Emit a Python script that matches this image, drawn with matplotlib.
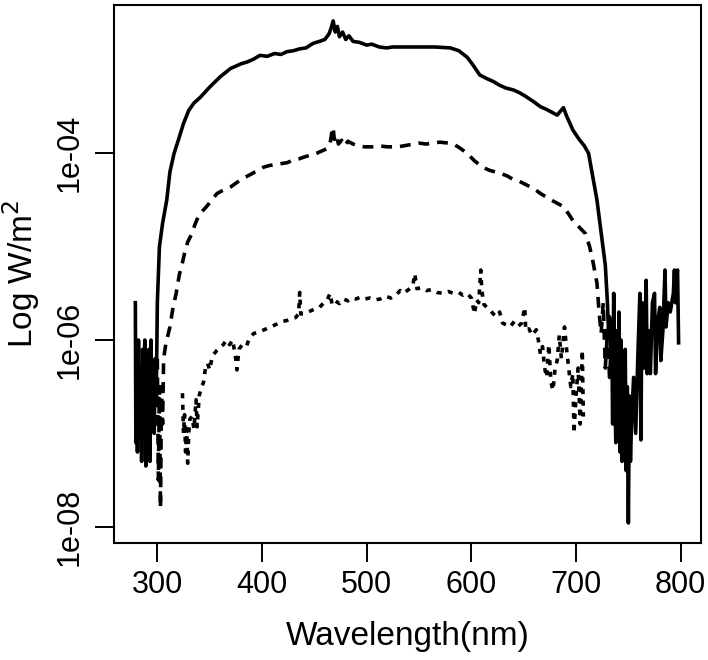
import matplotlib
matplotlib.use('Agg')
import matplotlib.pyplot as plt
import numpy as np

# wavelength (nm) and log10 irradiance
solid_nm = [279, 279.5, 280, 281, 282, 283, 284, 285, 286, 287, 288, 289, 290, 291, 292, 293,
            294, 295, 296, 297, 298, 299, 300, 302, 305, 309, 312, 316, 320, 325, 330, 335,
            341, 350, 360, 370, 380, 386, 392, 398, 405, 412, 418, 424, 430, 436, 442, 449,
            455, 460, 464, 466, 468, 470, 472, 474, 477, 480, 483, 487, 493, 500, 505, 512,
            519, 525, 535, 550, 565, 580, 588, 596, 602, 608, 615, 621, 627, 633, 640, 646,
            652, 656, 660, 666, 672, 677, 682, 685, 688, 691, 697, 703, 708, 712, 716, 720,
            724, 728, 730, 731, 732, 733, 734, 735, 736, 737, 738, 739, 740, 741, 742, 743,
            744, 745, 746, 747, 748, 749, 750, 751, 752, 753, 755, 757, 759, 761, 762, 763,
            765, 767, 768, 770, 771, 773, 775, 776, 778, 780, 781, 783, 785, 786, 788, 790,
            793, 794, 795, 796, 797, 798]
solid_log = [-5.6, -7.1, -6.3, -7.2, -6.0, -6.9, -6.5, -7.3, -6.1, -7.0, -6.0, -7.35, -6.4, -7.2, -6.1, -7.3,
             -6.0, -6.9, -6.3, -7.0, -6.2, -6.6, -5.6, -5.0, -4.75, -4.5, -4.2, -4.0, -3.86, -3.68, -3.54, -3.46,
             -3.4, -3.29, -3.18, -3.09, -3.04, -3.02, -2.99, -2.95, -2.96, -2.93, -2.94, -2.91, -2.9, -2.88, -2.87, -2.82,
             -2.8, -2.78, -2.72, -2.66, -2.58, -2.7, -2.64, -2.75, -2.7, -2.78, -2.74, -2.8, -2.81, -2.84, -2.83, -2.86,
             -2.87, -2.86, -2.86, -2.86, -2.86, -2.87, -2.9, -2.97, -3.06, -3.16, -3.2, -3.23, -3.27, -3.3, -3.32, -3.35,
             -3.39, -3.42, -3.45, -3.5, -3.53, -3.56, -3.59, -3.55, -3.51, -3.6, -3.75, -3.85, -3.92, -4.0, -4.25, -4.5,
             -4.85, -5.2, -5.6, -5.9, -5.75, -6.2, -5.8, -6.9, -5.5, -6.5, -7.1, -5.9, -7.0, -5.7, -7.2, -6.0,
             -7.3, -6.3, -7.25, -6.1, -7.4, -6.5, -7.96, -6.6, -7.3, -6.9, -6.4, -7.0, -6.2, -5.5, -7.07, -5.6,
             -6.3, -5.36, -6.36, -5.9, -6.36, -5.6, -5.5, -6.36, -5.8, -5.65, -6.22, -5.9, -5.25, -5.86, -5.6, -5.7,
             -5.5, -5.25, -5.6, -5.3, -5.25, -6.03]

dashed_nm = [300, 301, 302, 303, 304, 305, 306, 308, 312, 315, 318, 321, 323, 326, 329, 333,
             336, 339, 343, 347, 352, 357, 362, 366, 370, 375, 380, 385, 390, 396, 401, 407,
             413, 418, 424, 430, 435, 440, 446, 452, 458, 462, 465, 467, 468, 469, 471, 473,
             476, 479, 482, 487, 492, 498, 505, 512, 520, 530, 540, 550, 557, 563, 570, 578,
             583, 590, 596, 603, 611, 617, 623, 629, 634, 640, 646, 653, 660, 666, 672, 678,
             683, 688, 693, 697, 703, 709, 713, 716, 720, 722, 724, 726, 728, 730, 732, 734, 736]
dashed_log = [-6.2, -7.5, -6.5, -7.8, -6.5, -6.9, -6.2, -6.05, -5.86, -5.65, -5.5, -5.3, -5.22, -5.07, -4.95, -4.86,
              -4.76, -4.68, -4.62, -4.57, -4.5, -4.43, -4.4, -4.38, -4.36, -4.32, -4.28, -4.25, -4.22, -4.18, -4.15, -4.13,
              -4.12, -4.11, -4.1, -4.07, -4.06, -4.04, -4.02, -4.0, -3.97, -3.95, -3.9, -3.75, -3.72, -3.85, -3.8, -3.9,
              -3.86, -3.92, -3.87, -3.9, -3.92, -3.93, -3.93, -3.92, -3.93, -3.93, -3.91, -3.89, -3.9, -3.89, -3.88, -3.89,
              -3.9, -3.95, -4.0, -4.08, -4.15, -4.18, -4.2, -4.22, -4.24, -4.28, -4.3, -4.34, -4.38, -4.43, -4.47, -4.51,
              -4.54, -4.57, -4.65, -4.72, -4.79, -4.86, -5.0, -5.15, -5.39, -5.7, -5.93, -5.6, -6.3, -5.9, -6.4, -6.0, -6.7]

dotted_nm = [324, 325, 326, 327, 328, 329, 330, 331, 333, 335, 337, 338, 340, 342, 344, 346,
             348, 350, 352, 354, 357, 360, 363, 366, 369, 372, 375, 376, 378, 381, 385, 388,
             392, 396, 400, 404, 408, 412, 416, 420, 424, 428, 432, 435, 436, 437, 440, 444,
             448, 452, 455, 459, 462, 465, 467, 470, 474, 478, 482, 486, 490, 494, 498, 503,
             508, 513, 518, 523, 528, 532, 535, 540, 544, 546, 548, 552, 557, 562, 567, 573,
             578, 583, 588, 592, 596, 600, 603, 605, 607, 609, 610, 612, 615, 618, 621, 624,
             627, 630, 634, 637, 641, 645, 648, 651, 652, 655, 658, 662, 664, 666, 668, 670,
             672, 674, 676, 678, 680, 682, 684, 686, 689, 691, 693, 695, 697, 698, 700, 702,
             704, 706, 707]
dotted_log = [-6.57, -7.0, -6.8, -7.2, -6.95, -7.32, -7.0, -6.85, -6.82, -6.95, -6.64, -6.93, -6.6, -6.5, -6.46, -6.3,
              -6.25, -6.32, -6.2, -6.15, -6.11, -6.08, -6.05, -6.0, -6.05, -6.0, -6.21, -6.32, -6.1, -6.05, -6.07, -5.98,
              -5.93, -5.92, -5.9, -5.88, -5.86, -5.84, -5.82, -5.8, -5.79, -5.77, -5.76, -5.72, -5.49, -5.72, -5.72, -5.7,
              -5.68, -5.66, -5.65, -5.6, -5.58, -5.5, -5.62, -5.58, -5.61, -5.56, -5.58, -5.55, -5.56, -5.54, -5.56, -5.55,
              -5.57, -5.56, -5.53, -5.55, -5.52, -5.47, -5.5, -5.46, -5.42, -5.29, -5.45, -5.44, -5.47, -5.46, -5.49, -5.5,
              -5.48, -5.5, -5.49, -5.52, -5.5, -5.55, -5.72, -5.57, -5.6, -5.25, -5.47, -5.62, -5.65, -5.68, -5.72, -5.75,
              -5.7, -5.82, -5.84, -5.86, -5.8, -5.85, -5.82, -5.65, -5.9, -5.88, -5.95, -5.89, -6.0, -6.15, -6.07, -6.3,
              -6.4, -6.05, -6.45, -6.54, -6.3, -6.22, -5.95, -6.2, -5.86, -6.1, -6.3, -6.5, -6.36, -7.0, -6.6, -6.3,
              -6.9, -6.11, -6.82]

x_ticks = [300, 400, 500, 600, 700, 800]
y_ticks = [1e-08, 1e-06, 1e-04]
y_tick_labels = ['1e-08', '1e-06', '1e-04']

plt.rcParams['font.family'] = ['Liberation Sans', 'DejaVu Sans']

fig = plt.figure(figsize=(7.08, 6.6), dpi=100)
ax = fig.add_axes([114 / 708, 1 - 543.3 / 660, (701 - 114) / 708, (543.3 - 4.7) / 660])

ax.plot(solid_nm, 10 ** np.array(solid_log), color='black', lw=2.6, solid_joinstyle='round')
ax.plot(dashed_nm, 10 ** np.array(dashed_log), color='black', lw=2.6, dashes=(3, 2.2))
ax.plot(dotted_nm, 10 ** np.array(dotted_log), color='black', lw=2.6, dashes=(1.4, 1.8))

ax.set_yscale('log')
ax.set_xlim(258.6, 819.4)
ax.set_ylim(10 ** -8.178, 10 ** -2.407)
ax.set_xticks(x_ticks)
ax.set_yticks(y_ticks)
ax.set_yticklabels(y_tick_labels, rotation=90, va='center')
ax.minorticks_off()
ax.tick_params(direction='out', length=14, width=1.4, labelsize=22)
ax.tick_params(axis='x', pad=5)
ax.tick_params(axis='y', pad=7)
for s in ax.spines.values():
    s.set_linewidth(1.5)

ax.set_xlabel('Wavelength(nm)', fontsize=24, labelpad=15)
ax.set_ylabel('Log W/m$^2$', fontsize=24, labelpad=9)

fig.savefig('out.png', dpi=100)
